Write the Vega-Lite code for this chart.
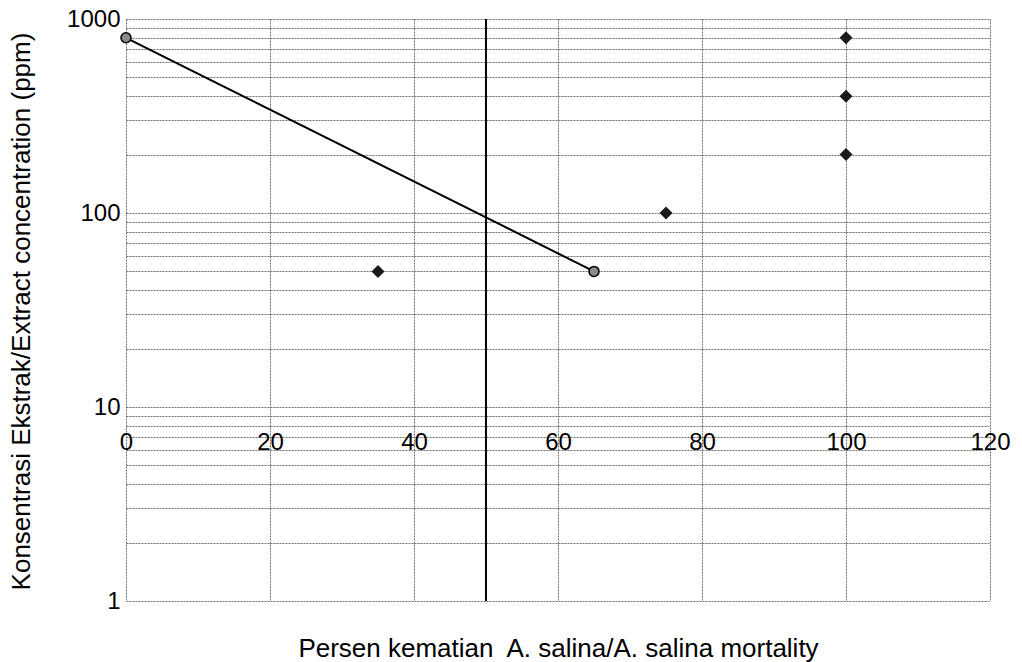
{
  "$schema": "https://vega.github.io/schema/vega-lite/v6.json",
  "autosize": "none",
  "width": 864,
  "height": 582,
  "padding": {"left": 126, "top": 19, "right": 32, "bottom": 61},
  "background": "white",
  "config": {
    "font": "Liberation Sans",
    "view": {"stroke": null},
    "axis": {
      "labelColor": "black",
      "titleColor": "black",
      "labelFont": "Liberation Sans",
      "titleFont": "Liberation Sans",
      "titleFontWeight": "normal",
      "gridColor": "#707070",
      "gridDash": [2, 1],
      "gridWidth": 1,
      "gridOpacity": 1
    }
  },
  "datasets": {
    "fit": [
      {"mortality": 0, "concentration": 800},
      {"mortality": 65, "concentration": 50}
    ],
    "observed": [
      {"mortality": 35, "concentration": 50},
      {"mortality": 75, "concentration": 100},
      {"mortality": 100, "concentration": 800},
      {"mortality": 100, "concentration": 400},
      {"mortality": 100, "concentration": 200}
    ],
    "lc50": [
      {"mortality": 50, "concentration": 1, "concentration_end": 1000}
    ]
  },
  "encoding": {
    "y": {
      "field": "concentration",
      "type": "quantitative",
      "scale": {"type": "log", "domain": [1, 1000], "nice": false},
      "axis": {
        "values": [1, 2, 3, 4, 5, 6, 7, 8, 9, 10, 20, 30, 40, 50, 60, 70, 80, 90, 100, 200, 300, 400, 500, 600, 700, 800, 900, 1000],
        "format": "d",
        "labelExpr": "datum.value == 1 || datum.value == 10 || datum.value == 100 || datum.value == 1000 ? datum.label : ''",
        "labelFontSize": 24,
        "labelPadding": 6,
        "ticks": false,
        "domain": false,
        "grid": true,
        "title": "Konsentrasi Ekstrak/Extract concentration (ppm)",
        "titleFontSize": 26,
        "titleAngle": -90,
        "titleX": -105,
        "titleY": 292,
        "titleAlign": "center",
        "titleBaseline": "middle"
      }
    }
  },
  "layer": [
    {
      "data": {"name": "lc50"},
      "mark": {"type": "rule", "color": "black", "strokeWidth": 2},
      "encoding": {
        "x": {
          "field": "mortality",
          "type": "quantitative",
          "scale": {"domain": [0, 120], "nice": false, "zero": false},
          "axis": {
            "orient": "bottom",
            "values": [0, 20, 40, 60, 80, 100, 120],
            "grid": true,
            "labels": false,
            "ticks": false,
            "domain": false,
            "title": null
          }
        },
        "y2": {"field": "concentration_end"}
      }
    },
    {
      "data": {"name": "fit"},
      "mark": {"type": "line", "color": "black", "strokeWidth": 2},
      "encoding": {
        "x": {"field": "mortality", "type": "quantitative", "axis": null}
      }
    },
    {
      "data": {"name": "fit"},
      "mark": {"type": "point", "shape": "circle", "filled": true, "fill": "#8a8a8a", "stroke": "black", "strokeWidth": 1.5, "size": 100, "opacity": 1},
      "encoding": {
        "x": {"field": "mortality", "type": "quantitative", "axis": null}
      }
    },
    {
      "data": {"name": "observed"},
      "mark": {"type": "point", "shape": "diamond", "filled": true, "color": "#1a1a1a", "size": 170, "opacity": 1},
      "encoding": {
        "x": {
          "field": "mortality",
          "type": "quantitative",
          "axis": {
            "orient": "bottom",
            "offset": -194,
            "values": [0, 20, 40, 60, 80, 100, 120],
            "grid": false,
            "ticks": false,
            "domain": false,
            "labelFontSize": 24,
            "labelPadding": 23,
            "labelFlush": false,
            "title": "Persen kematian\u00a0 A. salina/A. salina mortality",
            "titleFontSize": 26,
            "titleY": 241,
            "titleBaseline": "middle"
          }
        }
      }
    }
  ],
  "resolve": {"axis": {"x": "independent"}}
}
